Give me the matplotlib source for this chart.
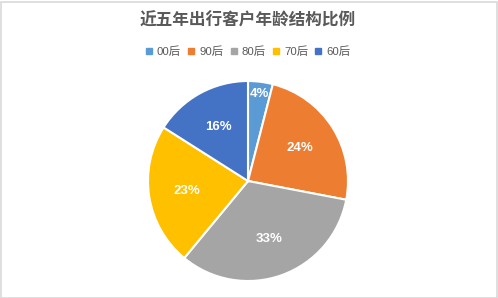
import matplotlib
matplotlib.use("Agg")
import matplotlib.pyplot as plt
from matplotlib.patches import Rectangle
from matplotlib.lines import Line2D

plt.rcParams['font.family'] = ['Liberation Sans', 'Noto Sans CJK SC', 'DejaVu Sans']

categories = ['00后', '90后', '80后', '70后', '60后']
shares = [4, 24, 33, 23, 16]
colors = ['#5B9BD5', '#ED7D31', '#A5A5A5', '#FFC000', '#4472C4']
title = '近五年出行客户年龄结构比例'

W, H = 498, 298
fig = plt.figure(figsize=(W / 100, H / 100), dpi=100)
fig.patch.set_facecolor('white')

# outer frame
fig.add_artist(Rectangle((0.5 / W, 0.5 / H), 1 - 1.5 / W, 1 - 2.5 / H,
                         transform=fig.transFigure, fill=False,
                         edgecolor='#D9D9D9', linewidth=1.2))

# pie axes: centre (248, 181) px, radius 100 px
r = 100
cx, cy = 248, 181
ax = fig.add_axes([(cx - r) / W, (H - cy - r) / H, 2 * r / W, 2 * r / H])
wedges, texts, autotexts = ax.pie(
    shares, colors=colors, startangle=90, counterclock=False,
    autopct='%d%%', pctdistance=0.62,
    wedgeprops=dict(edgecolor='white', linewidth=1.5),
    textprops=dict(color='white', fontsize=9.5, fontweight='bold'))
ax.set_xlim(-1, 1)
ax.set_ylim(-1, 1)
ax.set_aspect('equal')
ax.axis('off')

# small slice: push its label outward
x, y = autotexts[0].get_position()
k = 0.88 / 0.62
autotexts[0].set_position((x * k, y * k))

fig.text(cx / W, 1 - 21 / H, title, ha='center', va='center',
         fontsize=12, fontweight='bold', color='#595959',
         family=['Noto Sans CJK SC', 'DejaVu Sans'])

handles = [Line2D([], [], marker='s', linestyle='none', markersize=4.5,
                  markerfacecolor=c, markeredgecolor=c) for c in colors]
leg = fig.legend(handles, categories, loc='center', ncol=5,
                 bbox_to_anchor=(cx / W, 1 - 52 / H), frameon=False,
                 handlelength=0.6, handletextpad=0.4, columnspacing=0.6,
                 prop=dict(size=8.2, family=['Liberation Sans', 'Noto Sans CJK SC']))
for t in leg.get_texts():
    t.set_color('#595959')

fig.savefig('out.png', dpi=100, facecolor='white')
